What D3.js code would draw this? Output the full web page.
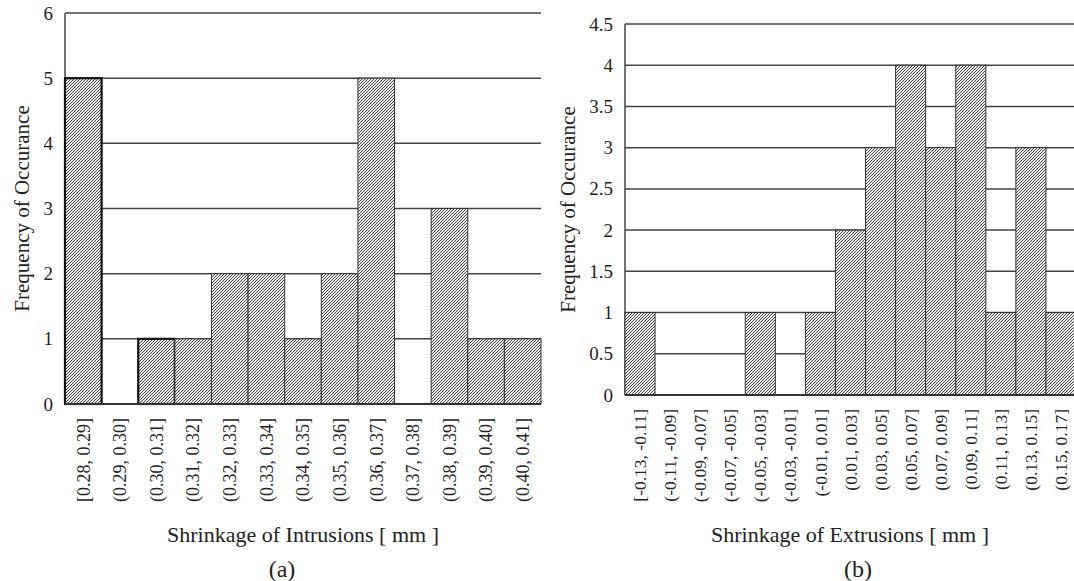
<!DOCTYPE html>
<html>
<head>
<meta charset="utf-8">
<script src="https://cdn.jsdelivr.net/npm/d3@7"></script>
<style>
  body { margin: 0; background: #fff; }
  svg { display: block; }
  svg text { font-family: "Liberation Serif", "Times New Roman", serif; fill: #222; }
</style>
</head>
<body>
<svg id="chart" width="1074" height="581"></svg>
<script>
// panel (a) - intrusions
var intrusionBins = ['[0.28, 0.29]', '(0.29, 0.30]', '(0.30, 0.31]', '(0.31, 0.32]', '(0.32, 0.33]',
  '(0.33, 0.34]', '(0.34, 0.35]', '(0.35, 0.36]', '(0.36, 0.37]', '(0.37, 0.38]', '(0.38, 0.39]',
  '(0.39, 0.40]', '(0.40, 0.41]'];
var intrusionCounts = [5, 0, 1, 1, 2, 2, 1, 2, 5, 0, 3, 1, 1];
var intrusionTicks = [0, 1, 2, 3, 4, 5, 6];

// panel (b) - extrusions
var extrusionBins = ['[-0.13, -0.11]', '(-0.11, -0.09]', '(-0.09, -0.07]', '(-0.07, -0.05]',
  '(-0.05, -0.03]', '(-0.03, -0.01]', '(-0.01, 0.01]', '(0.01, 0.03]', '(0.03, 0.05]',
  '(0.05, 0.07]', '(0.07, 0.09]', '(0.09, 0.11]', '(0.11, 0.13]', '(0.13, 0.15]', '(0.15, 0.17]'];
var extrusionCounts = [1, 0, 0, 0, 1, 0, 1, 2, 3, 4, 3, 4, 1, 3, 1];
var extrusionTicks = [0, 0.5, 1, 1.5, 2, 2.5, 3, 3.5, 4, 4.5];

const svg = d3.select('#chart');

// diagonal hatch used by every bar
const pat = svg.append('defs').append('pattern')
  .attr('id', 'hatch')
  .attr('patternUnits', 'userSpaceOnUse')
  .attr('width', 3).attr('height', 3);
pat.append('rect').attr('width', 3).attr('height', 3).attr('fill', '#eeeeee');
pat.append('path')
  .attr('d', 'M-1,1 L1,-1 M0,3 L3,0 M2,4 L4,2')
  .attr('stroke', '#4a4a4a')
  .attr('stroke-width', 1);

DrawPanel({
  bins: intrusionBins, counts: intrusionCounts, ticks: intrusionTicks,
  x0: 65, x1: 541, y0: 404, y1: 13, cx: 303,
  title: 'Shrinkage of Intrusions [ mm ]', tag: '(a)', tagX: 282,
  yTitleX: 22, bold: [0, 2], labelSize: 18, labelGap: 14
});

DrawPanel({
  bins: extrusionBins, counts: extrusionCounts, ticks: extrusionTicks,
  x0: 625, x1: 1076, y0: 395, y1: 24, cx: 850,
  title: 'Shrinkage of Extrusions [ mm ]', tag: '(b)', tagX: 858,
  yTitleX: 568, bold: [], labelSize: 17.5, labelGap: 14
});

function DrawPanel(p) {
  const x = d3.scaleBand().domain(p.bins).range([p.x0, p.x1]).paddingInner(0).paddingOuter(0);
  const y = d3.scaleLinear().domain([0, d3.max(p.ticks)]).range([p.y0, p.y1]);
  const g = svg.append('g');

  // horizontal grid
  g.append('g').selectAll('line')
    .data(p.ticks.slice(1))
    .enter().append('line')
    .attr('x1', p.x0).attr('x2', Math.min(p.x1, 1074))
    .attr('y1', d => y(d)).attr('y2', d => y(d))
    .attr('stroke', '#444').attr('stroke-width', 1.5);

  // left axis line
  g.append('line')
    .attr('x1', p.x0).attr('x2', p.x0)
    .attr('y1', y(d3.max(p.ticks))).attr('y2', p.y0)
    .attr('stroke', '#444').attr('stroke-width', 1.5);

  // bars
  g.append('g').selectAll('rect')
    .data(p.counts)
    .enter().append('rect')
    .attr('x', (d, i) => x(p.bins[i]))
    .attr('width', x.bandwidth())
    .attr('y', d => y(d))
    .attr('height', d => p.y0 - y(d))
    .attr('fill', 'url(#hatch)')
    .attr('stroke', (d, i) => p.bold.includes(i) ? '#111' : '#333')
    .attr('stroke-width', (d, i) => p.bold.includes(i) ? 2.2 : 1)
    .style('display', d => d > 0 ? null : 'none');

  // baseline
  g.append('line')
    .attr('x1', p.x0).attr('x2', Math.min(p.x1, 1074))
    .attr('y1', p.y0).attr('y2', p.y0)
    .attr('stroke', '#333').attr('stroke-width', 2);

  // y tick labels
  const yAxis = g.append('g')
    .attr('transform', `translate(${p.x0},0)`)
    .call(d3.axisLeft(y).tickValues(p.ticks).tickSize(0).tickPadding(12).tickFormat(d => String(d)));
  yAxis.select('.domain').remove();
  yAxis.selectAll('text').attr('font-size', 19);

  // x tick labels, rotated
  const xAxis = g.append('g')
    .attr('transform', `translate(0,${p.y0})`)
    .call(d3.axisBottom(x).tickSize(0).tickPadding(0));
  xAxis.select('.domain').remove();
  xAxis.selectAll('text')
    .attr('font-size', p.labelSize)
    .attr('transform', 'rotate(-90)')
    .attr('x', -p.labelGap).attr('y', 0).attr('dy', '0.35em')
    .attr('text-anchor', 'end');

  // titles
  g.append('text')
    .attr('x', p.cx).attr('y', 542)
    .attr('text-anchor', 'middle')
    .attr('font-size', 22)
    .text(p.title);

  g.append('text')
    .attr('x', p.tagX).attr('y', 577)
    .attr('text-anchor', 'middle')
    .attr('font-size', 24)
    .text(p.tag);

  g.append('text')
    .attr('transform', `translate(${p.yTitleX},${(p.y0 + y(d3.max(p.ticks))) / 2}) rotate(-90)`)
    .attr('dy', '0.35em')
    .attr('text-anchor', 'middle')
    .attr('font-size', 21)
    .text('Frequency of Occurance');
}
</script>
</body>
</html>
